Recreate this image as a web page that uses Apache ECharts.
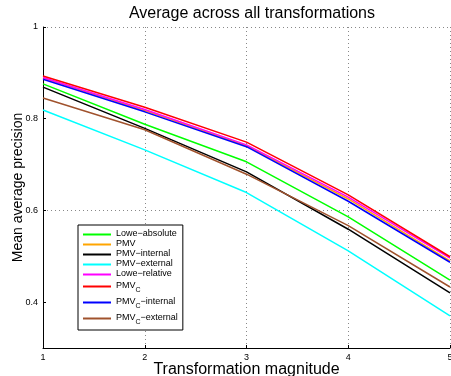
<!DOCTYPE html>
<html>
<head>
<meta charset="utf-8">
<script src="https://cdn.jsdelivr.net/npm/echarts@6/dist/echarts.min.js"></script>
<style>
  html, body { margin: 0; padding: 0; background: #fff; }
  #chart { width: 451px; height: 376px; }
</style>
</head>
<body>
<div id="chart"></div>
<script>
// Transformation magnitudes on the x axis
const magnitudes = [1, 2, 3, 4, 5];

// Mean average precision per method
const loweAbsolute = [0.876, 0.788, 0.706, 0.586, 0.448];
const pmv          = [0.889, 0.818, 0.741, 0.625, 0.490];
const pmvInternal  = [0.869, 0.779, 0.684, 0.559, 0.420];
const pmvExternal  = [0.819, 0.732, 0.639, 0.512, 0.370];
const loweRelative = [0.890, 0.820, 0.743, 0.629, 0.496];
const pmvC         = [0.893, 0.825, 0.749, 0.634, 0.499];
const pmvCInternal = [0.886, 0.815, 0.739, 0.620, 0.487];
const pmvCExternal = [0.845, 0.776, 0.679, 0.567, 0.433];

// Series names (the "_C" part is drawn as a subscript)
const seriesNames = [
  'Lowe\u2212absolute', 'PMV', 'PMV\u2212internal', 'PMV\u2212external',
  'Lowe\u2212relative', 'PMV_C', 'PMV_C\u2212internal', 'PMV_C\u2212external'
];
const seriesValues = [
  loweAbsolute, pmv, pmvInternal, pmvExternal,
  loweRelative, pmvC, pmvCInternal, pmvCExternal
];
const seriesColors = [
  '#00ff00', '#ffa500', '#000000', '#00ffff',
  '#ff00ff', '#ff0000', '#0000ff', '#a0522d'
];

// Tick values shown on the y axis
const yTickValues = [0.4, 0.6, 0.8, 1];

const FONT = 'Liberation Sans, Arial, Helvetica, sans-serif';

const chart = echarts.init(document.getElementById('chart'), null, { renderer: 'canvas' });

const series = seriesNames.map((name, i) => ({
  name: name,
  type: 'line',
  data: magnitudes.map((m, j) => [m, seriesValues[i][j]]),
  showSymbol: false,
  symbol: 'none',
  color: seriesColors[i],
  lineStyle: { width: 1.5, color: seriesColors[i] },
  emphasis: { disabled: true },
  silent: true,
  animation: false
}));

function legendLabel(name) {
  if (name.indexOf('_C') >= 0) {
    const parts = name.split('_C');
    return '{n|' + parts[0] + '}{s|C}' + (parts[1] ? '{n|' + parts[1] + '}' : '');
  }
  return '{n|' + name + '}';
}

const gridLineStyle = { type: [1, 3], color: '#888', width: 1 };

chart.setOption({
  backgroundColor: '#ffffff',
  animation: false,
  title: {
    text: 'Average across all transformations',
    left: 247,
    top: 1,
    textAlign: 'center',
    textStyle: { fontFamily: FONT, fontSize: 16, fontWeight: 'normal', color: '#000' }
  },
  grid: { left: 43, right: 1, top: 27, bottom: 28, containLabel: false, outerBoundsMode: 'none' },
  legend: {
    data: seriesNames,
    orient: 'vertical',
    left: 78,
    top: 225,
    padding: [4, 5, 4, 5],
    itemGap: 1,
    itemWidth: 28,
    itemHeight: 2,
    itemTextGap: 3,
    icon: 'rect',
    selectedMode: false,
    backgroundColor: '#ffffff',
    borderColor: '#000000',
    borderWidth: 1,
    borderRadius: 0,
    formatter: legendLabel,
    textStyle: {
      fontFamily: FONT,
      fontSize: 9,
      color: '#000',
      rich: {
        n: { fontFamily: FONT, fontSize: 9, lineHeight: 11, verticalAlign: 'top', color: '#000' },
        s: { fontFamily: FONT, fontSize: 7, lineHeight: 7, padding: [8, 0, 0, 0], color: '#000' }
      }
    }
  },
  xAxis: {
    type: 'value',
    min: 1,
    max: 5,
    interval: 1,
    name: 'Transformation magnitude',
    nameLocation: 'middle',
    nameGap: 14,
    nameMoveOverlap: false,
    nameTextStyle: { fontFamily: FONT, fontSize: 16, color: '#000', verticalAlign: 'top' },
    axisLine: { show: true, onZero: false, lineStyle: { color: '#000', width: 1 } },
    axisTick: { show: true, inside: true, length: 3, lineStyle: { color: '#000' } },
    axisLabel: { fontFamily: FONT, fontSize: 9, color: '#000', margin: 5 },
    splitLine: { show: true, lineStyle: gridLineStyle }
  },
  yAxis: {
    type: 'value',
    min: 0.3,
    max: 1,
    interval: 0.1,
    name: 'Mean average precision',
    nameLocation: 'middle',
    nameGap: 18,
    nameMoveOverlap: false,
    nameTextStyle: { fontFamily: FONT, fontSize: 14, color: '#000' },
    axisLine: { show: true, onZero: false, lineStyle: { color: '#000', width: 1 } },
    axisTick: { show: true, inside: true, length: 3, customValues: yTickValues, lineStyle: { color: '#000' } },
    axisLabel: { fontFamily: FONT, fontSize: 9, color: '#000', margin: 5, customValues: yTickValues },
    splitLine: {
      show: true,
      lineStyle: { type: [1, 3], color: ['rgba(0,0,0,0)', '#888'], width: 1 }
    }
  },
  series: series
});
</script>
</body>
</html>
